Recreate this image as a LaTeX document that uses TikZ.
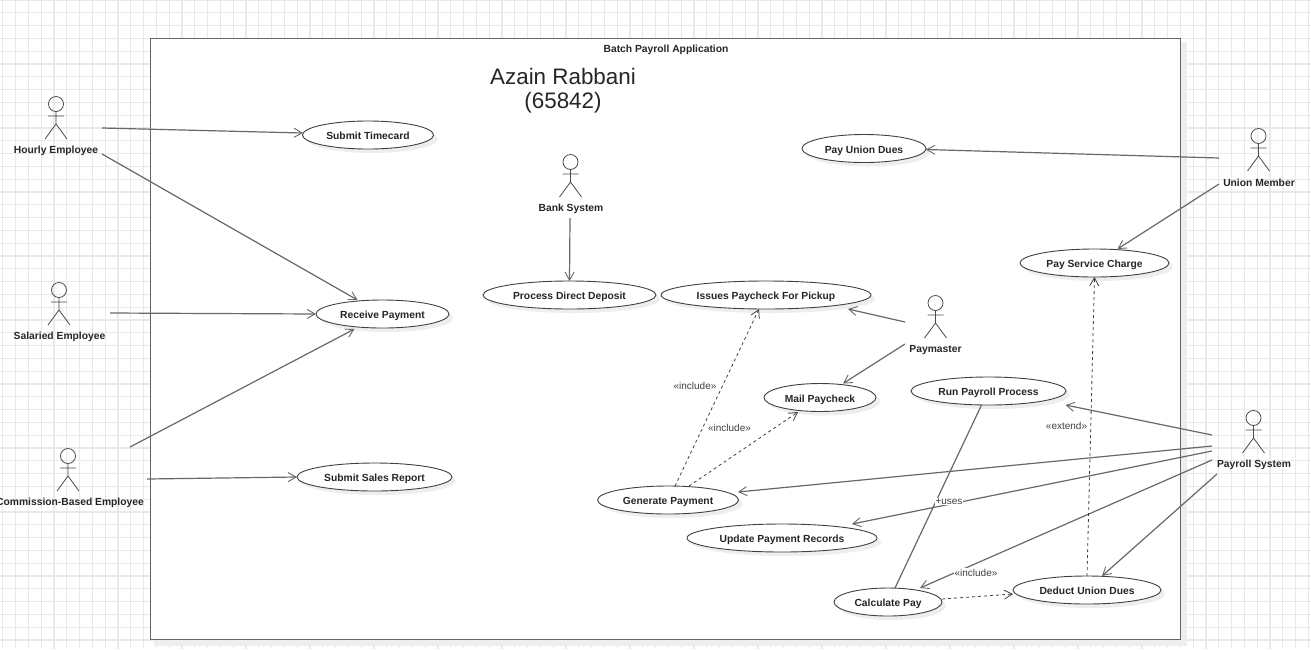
\documentclass[tikz,border=0pt]{standalone}
\usepackage{fontspec}
\setmainfont{Liberation Sans}
\usetikzlibrary{arrows.meta,shapes.geometric}
\definecolor{gridc}{HTML}{E9E9E9}
\definecolor{linec}{HTML}{686868}
\definecolor{shadowc}{HTML}{EEEEEE}
\tikzset{
  x=1pt,y=-1pt,
  usecase/.style={ellipse,draw=black!75,line width=0.9pt,fill=white,inner sep=0pt,outer sep=0pt,font=\bfseries\fontsize{10.3}{11}\selectfont,text=black!85,text height=9.5pt,text depth=0pt},
  actorlabel/.style={font=\bfseries\fontsize{10.3}{11}\selectfont,text=black!85,inner sep=0pt},
  actorline/.style={draw=black!70,line width=0.8pt},
  assoc/.style={draw=linec,line width=1.2pt,-{Straight Barb[length=8pt,width=9pt,line width=0.9pt]}},
  plain/.style={draw=linec,line width=1.2pt},
  dep/.style={draw=black!75,line width=0.8pt,dash pattern=on 3pt off 3pt,-{Straight Barb[length=8pt,width=9pt,line width=0.8pt]}},
  rel/.style={font=\fontsize{10}{11}\selectfont,text=black!75,inner sep=1pt,fill=white},
}
\newcommand{\usecasenode}[6]{%
  \fill[shadowc] (#3+4,#4+4) ellipse [x radius=#5,y radius=14];
  \node[usecase,minimum width=#5*2pt,minimum height=28pt] (#1) at (#3,#4) {#2};}
\newcommand{\actorfig}[5]{%
  \draw[actorline] (#3,#4) circle [radius=7.5];
  \draw[actorline] (#3,#4+7.5) -- (#3,#4+20) (#3-11,#4+35) -- (#3,#4+20) -- (#3+11,#4+35) (#3-8,#4+12) -- (#3+8,#4+12);
  \node[actorlabel] (#1) at (#5,#4+47) {#2};}
\begin{document}
\begin{tikzpicture}
\useasboundingbox (0,0) rectangle (1311,649);
\fill[white] (0,0) rectangle (1311,649);
% grid
\foreach \i in {0,...,102} \draw[gridc,line width=1.2pt] (2.7+12.8*\i,0) -- (2.7+12.8*\i,649);
\foreach \i in {0,...,50} \draw[gridc,line width=1.2pt] (0,12.8*\i) -- (1311,12.8*\i);
% frame
\fill[shadowc] (154,42) rectangle (1187,646);
\node[draw=black!60,line width=1pt,fill=white,minimum width=1030pt,minimum height=601pt,inner sep=0pt,outer sep=0pt] (frame) at (665,338.5) {};
\node[actorlabel] (title) at (666,49.5) {Batch Payroll Application};
\node[font=\fontsize{22.4}{24}\selectfont,align=center,text=black!85,inner sep=0pt] (author) at (563,90.5) {Azain Rabbani\\(65842)};
% use cases
\usecasenode{timecard}{Submit Timecard}{368}{135}{65.5}{}
\usecasenode{receive}{Receive Payment}{382.5}{314}{66.5}{}
\usecasenode{sales}{Submit Sales Report}{374.5}{477}{77.5}{}
\usecasenode{deposit}{Process Direct Deposit}{569.5}{295}{86.5}{}
\usecasenode{pickup}{Issues Paycheck For Pickup}{766}{295}{105}{}
\usecasenode{dues}{Pay Union Dues}{864}{148.5}{62}{}
\usecasenode{service}{Pay Service Charge}{1094.5}{263}{74.5}{}
\usecasenode{mail}{Mail Paycheck}{820}{397.5}{56}{}
\usecasenode{run}{Run Payroll Process}{988.5}{391}{77.5}{}
\usecasenode{generate}{Generate Payment}{668}{500}{70.5}{}
\usecasenode{update}{Update Payment Records}{782}{538}{95}{}
\usecasenode{calcpay}{Calculate Pay}{888}{602}{54}{}
\usecasenode{deduct}{Deduct Union Dues}{1087}{590}{74}{}
% actors
\actorfig{hourly}{Hourly Employee}{56}{104}{56}
\actorfig{salaried}{Salaried Employee}{59}{290}{59.5}
\actorfig{commission}{Commission-Based Employee}{68}{456}{70}
\actorfig{bank}{Bank System}{570.5}{162}{571}
\actorfig{union}{Union Member}{1258.5}{136}{1259}
\actorfig{paymaster}{Paymaster}{935.5}{303}{935.5}
\actorfig{payroll}{Payroll System}{1253.5}{418}{1254}
% connector free ends
\coordinate (h1) at (102,128);
\coordinate (h2) at (102,154);
\coordinate (s1) at (110,313);
\coordinate (c1) at (130,447);
\coordinate (c2) at (147,479);
\coordinate (b1) at (570,218);
\coordinate (u1) at (1219,158);
\coordinate (u2) at (1219,184);
\coordinate (m1) at (905,322);
\coordinate (m2) at (905,344);
\coordinate (p1) at (1212,435);
\coordinate (p2) at (1212,446);
\coordinate (p3) at (1212,451);
\coordinate (p4) at (1212,460);
\coordinate (p5) at (1217,474);
% associations
\draw[assoc] (h1) -- ([shift={(-65,-2)}]timecard.center);
\draw[assoc] (h2) -- ([shift={(-25,-14)}]receive.center);
\draw[assoc] (s1) -- (receive.west);
\draw[assoc] (c1) -- ([shift={(-28,15)}]receive.center);
\draw[assoc] (c2) -- (sales.west);
\draw[assoc] (b1) -- (deposit.north);
\draw[assoc] (u1) -- ([shift={(62,1)}]dues.center);
\draw[assoc] (u2) -- ([shift={(23,-14)}]service.center);
\draw[assoc] (m1) -- ([shift={(82,14)}]pickup.center);
\draw[assoc] (m2) -- ([shift={(23,-14)}]mail.center);
\draw[assoc] (p1) -- ([shift={(77,14)}]run.center);
\draw[assoc] (p2) -- ([shift={(70,-8)}]generate.center);
\draw[assoc] (p3) -- ([shift={(70,-14)}]update.center);
\draw[assoc] (p4) -- ([shift={(32,-14)}]calcpay.center);
\draw[assoc] (p5) -- ([shift={(15,-14)}]deduct.center);
\draw[plain] ([shift={(-7,14)}]run.center) -- ([shift={(7,-14)}]calcpay.center);
% dependencies
\draw[dep] ([shift={(7,-14)}]generate.center) -- ([shift={(-7,14)}]pickup.center);
\draw[dep] ([shift={(21,-14)}]generate.center) -- ([shift={(-22,14.5)}]mail.center);
\draw[dep] ([shift={(54,-3)}]calcpay.center) -- ([shift={(-74,4)}]deduct.center);
\draw[dep] (deduct.north) -- (service.south);
% labels
\node[rel] (l1) at (695,385.5) {«include»};
\node[rel] (l2) at (729.5,427.5) {«include»};
\node[rel] (l3) at (976,573) {«include»};
\node[rel] (l4) at (1066.5,425.5) {«extend»};
\node[rel] (l5) at (949,501.5) {+uses};
\end{tikzpicture}
\end{document}
